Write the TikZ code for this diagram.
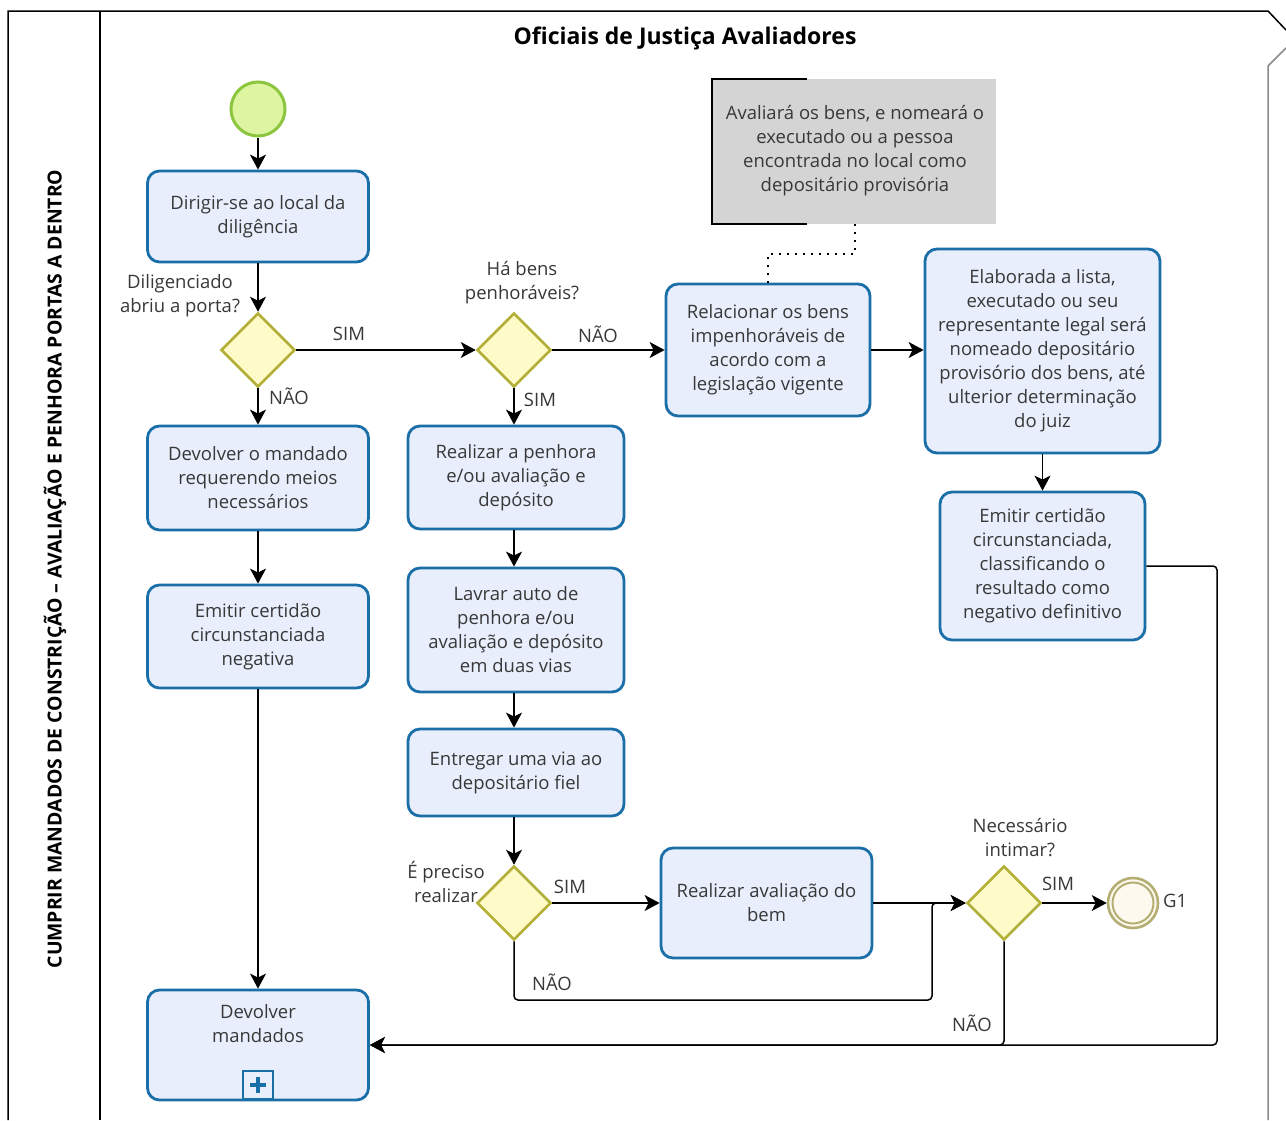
\documentclass[tikz,border=0pt]{standalone}
\usepackage{fontspec}
\setmainfont{Open Sans}
\usetikzlibrary{shapes.geometric,arrows.meta,calc}

\definecolor{taskfill}{HTML}{E8EEFC}
\definecolor{taskdraw}{HTML}{1B6FA8}
\definecolor{gwfill}{HTML}{FFFBC8}
\definecolor{gwdraw}{HTML}{B3B03A}
\definecolor{startfill}{HTML}{DDF5A0}
\definecolor{startdraw}{HTML}{8CC63F}
\definecolor{endfill}{HTML}{FDF9EE}
\definecolor{enddraw}{HTML}{B5AE72}
\definecolor{txt}{HTML}{383838}
\definecolor{annfill}{HTML}{D4D4D4}
\definecolor{poolgray}{HTML}{8A8A8A}

\tikzset{
  task/.style={rectangle, rounded corners=12pt, draw=taskdraw, line width=2.8pt,
    fill=taskfill, align=center, inner sep=0pt, text=txt,
    font=\fontsize{18.5}{24}\selectfont},
  gateway/.style={diamond, aspect=1, draw=gwdraw, fill=gwfill, line width=2.6pt,
    minimum width=74pt, minimum height=74pt, inner sep=0pt},
  lbl/.style={text=txt, font=\fontsize{18.5}{24}\selectfont, align=center, inner sep=0pt},
  flow/.style={line width=1.5pt, rounded corners=4pt,
    -{Stealth[length=15pt,width=16pt,inset=4pt]}},
  assoc/.style={line width=1.6pt, dash pattern=on 2pt off 6pt},
}

\begin{document}
\begin{tikzpicture}[x=1pt,y=-1pt]
\useasboundingbox (0,0) rectangle (1286,1120);
\fill[white] (0,0) rectangle (1286,1120);

% pool and lane frame
\draw[line width=1.5pt] (8,1120) -- (8,11) -- (1268,11) -- (1286,30);
\draw[line width=1.5pt, poolgray] (1286,48) -- (1268,66) -- (1268,1120);
\draw[line width=1.5pt] (100,11) -- (100,1120);
\node[rotate=90, font=\bfseries\fontsize{19.4}{22}\selectfont] (lane) at (55,569)
  {CUMPRIR MANDADOS DE CONSTRIÇÃO – AVALIAÇÃO E PENHORA PORTAS A DENTRO};
\node[font=\bfseries\fontsize{23}{26}\selectfont] (title) at (685,38)
  {Oficiais de Justiça Avaliadores};

% events
\node[circle, draw=startdraw, fill=startfill, line width=3pt, minimum size=54pt,
  inner sep=0pt] (start) at (258,109) {};
\node[circle, draw=enddraw, fill=endfill, line width=2.6pt, minimum size=50pt,
  inner sep=0pt] (end) at (1133,903) {};
\draw[enddraw, line width=2pt] (end.center) circle[radius=20.5pt];
\node[lbl, anchor=west] (endlbl) at (1163,901) {G1};

% tasks
\node[task, minimum width=221pt, minimum height=91pt] (t1) at (258,216.5)
  {Dirigir-se ao local da\\diligência};
\node[task, minimum width=221pt, minimum height=104pt] (t2) at (258,478)
  {Devolver o mandado\\requerendo meios\\necessários};
\node[task, minimum width=221pt, minimum height=103pt] (t3) at (258,636.5)
  {Emitir certidão\\circunstanciada\\negativa};
\node[task, minimum width=221pt, minimum height=110pt] (t4) at (258,1045) {};
\node[lbl] (t4txt) at (258,1024) {Devolver\\mandados};
\node[rectangle, draw=taskdraw, line width=2.6pt, fill=taskfill,
  minimum width=30pt, minimum height=28pt, inner sep=0pt] (t4mark) at (258,1085) {};
\fill[taskdraw] ($(t4mark.center)+(-8,-2)$) rectangle ($(t4mark.center)+(8,2)$);
\fill[taskdraw] ($(t4mark.center)+(-2,-8)$) rectangle ($(t4mark.center)+(2,8)$);

\node[task, minimum width=216pt, minimum height=103pt] (t5) at (516,477.5)
  {Realizar a penhora\\e/ou avaliação e\\depósito};
\node[task, minimum width=216pt, minimum height=124pt] (t6) at (516,630)
  {Lavrar auto de\\penhora e/ou\\avaliação e depósito\\em duas vias};
\node[task, minimum width=216pt, minimum height=87pt] (t7) at (516,772.5)
  {Entregar uma via ao\\depositário fiel};
\node[task, minimum width=211pt, minimum height=110pt] (t8) at (766.5,903)
  {Realizar avaliação do\\bem};
\node[task, minimum width=204pt, minimum height=132pt] (t9) at (768,350)
  {Relacionar os bens\\impenhoráveis de\\acordo com a\\legislação vigente};
\node[task, minimum width=235pt, minimum height=204pt] (t10) at (1042.5,351)
  {Elaborada a lista,\\executado ou seu\\representante legal será\\nomeado depositário\\provisório dos bens, até\\ulterior determinação\\do juiz};
\node[task, minimum width=205pt, minimum height=148pt] (t11) at (1042.5,566)
  {Emitir certidão\\circunstanciada,\\classificando o\\resultado como\\negativo definitivo};

% gateways
\node[gateway] (g1) at (258,350) {};
\node[lbl] (g1lbl) at (180,296) {Diligenciado\\abriu a porta?};
\node[gateway] (g2) at (514,350) {};
\node[lbl] (g2lbl) at (522,283) {Há bens\\penhoráveis?};
\node[gateway] (g3) at (514,903) {};
\node[lbl] (g3lbl) at (446,882) {É preciso\\realizar};
\node[gateway] (g4) at (1004,903) {};
\node[lbl] (g4lbl) at (1020,838) {Necessário\\intimar?};

% annotation
\fill[annfill] (712,79) rectangle (996,224);
\draw[line width=1.6pt] (807,79) -- (712,79) -- (712,224) -- (807,224);
\node[lbl] (ann) at (855,151)
  {Avaliará os bens, e nomeará o\\executado ou a pessoa\\encontrada no local como\\depositário provisória};
\coordinate (annbot) at (855,224);
\draw[assoc] (annbot) -- (855,254) -- (768,254) -- (t9.north);

% sequence flows
\draw[flow] (start) -- (t1);
\draw[flow] (t1) -- (g1);
\draw[flow] (g1) -- (t2);
\draw[flow] (g1) -- (g2);
\draw[flow] (g2) -- (t9);
\draw[flow] (g2) -- (g2 |- t5.north);
\draw[flow] (t9.east) -- (t9.east -| t10.west);
\draw[flow] (t10) -- (t11);
\draw[flow] (t11.east) -- (1217,566) -- (1217,1045) -- (t4.east);
\draw[flow] (t2) -- (t3);
\draw[flow] (t3) -- (t4);
\draw[flow] (g2 |- t5.south) -- (g2 |- t6.north);
\draw[flow] (g2 |- t6.south) -- (g2 |- t7.north);
\draw[flow] (g2 |- t7.south) -- (g3);
\draw[flow] (g3) -- (t8);
\draw[flow] (g3.south) -- (514,1000) -- (932,1000) -- (932,903) -- (g4.west);
\draw[flow] (t8) -- (g4);
\draw[flow] (g4) -- (end);
\draw[flow] (g4.south) -- (1004,1045) -- (t4.east);

% flow labels
\node[lbl] (l1) at (349,334) {SIM};
\node[lbl] (l2) at (289,396) {NÃO};
\node[lbl] (l3) at (598,334) {NÃO};
\node[lbl] (l4) at (540,400) {SIM};
\node[lbl] (l5) at (570,887) {SIM};
\node[lbl] (l6) at (552,982) {NÃO};
\node[lbl] (l7) at (1058,884) {SIM};
\node[lbl] (l8) at (972,1023) {NÃO};
\end{tikzpicture}
\end{document}
